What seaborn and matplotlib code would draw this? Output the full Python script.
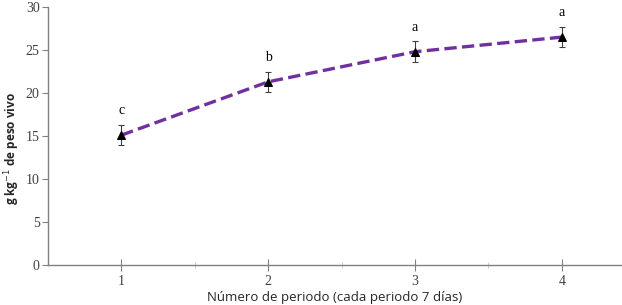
import numpy as np
import pandas as pd
import matplotlib
matplotlib.use("Agg")
import matplotlib.pyplot as plt
import seaborn as sns

periodos = [1, 2, 3, 4]
valores = [15.1, 21.3, 24.8, 26.5]
errores = [1.2, 1.2, 1.2, 1.2]
letras = ["c", "b", "a", "a"]


def main():
    sns.set_style("white")
    df = pd.DataFrame({"periodo": periodos, "valor": valores})

    fig = plt.figure(figsize=(6.22, 3.05), dpi=100)
    ax = fig.add_axes([0.077, 0.131, 0.923, 0.846])

    ax.errorbar(periodos, valores, yerr=errores, fmt="none", ecolor="#404040",
                elinewidth=0.8, capsize=2.5, capthick=0.8, zorder=2)
    sns.lineplot(data=df, x="periodo", y="valor", ax=ax, color="#7030A0",
                 linestyle="--", linewidth=2.4, marker="^", markersize=6,
                 markerfacecolor="black", markeredgecolor="black", zorder=3)

    for x, y, e, t in zip(periodos, valores, errores, letras):
        ax.text(x, y + e + 0.9, t, ha="center", va="bottom",
                family="Liberation Serif", fontsize=10, color="black")

    ax.set_xlim(0.5, 4.41)
    ax.set_ylim(0, 30)
    ax.set_xticks(periodos)
    ax.set_xticks([1.5, 2.5, 3.5], minor=True)
    ax.set_yticks(range(0, 31, 5))
    for lab in ax.get_xticklabels() + ax.get_yticklabels():
        lab.set_family("Liberation Serif")
        lab.set_fontsize(10)
        lab.set_color("#404040")
    ax.tick_params(axis="x", which="major", direction="inout", length=8,
                   width=0.8, color="#808080", bottom=True)
    ax.tick_params(axis="x", which="minor", direction="inout", length=4,
                   width=0.6, color="#c0c0c0", bottom=True)
    ax.tick_params(axis="y", direction="out", length=4, width=0.8,
                   color="#808080", left=True, pad=2)

    for s in ["top", "right"]:
        ax.spines[s].set_visible(False)
    for s in ["left", "bottom"]:
        ax.spines[s].set_color("#808080")
        ax.spines[s].set_linewidth(1.0)

    ax.set_xlabel("Número de periodo (cada periodo 7 días)", family="Open Sans",
                  fontsize=9.5, labelpad=2)
    ax.set_ylabel("g kg$^{-1}$ de peso vivo", family="Open Sans",
                  fontsize=8.5, fontweight="bold")
    ax.yaxis.set_label_coords(-0.045, 0.45)

    fig.savefig("out.png", dpi=100)
    plt.close(fig)


if __name__ == "__main__":
    main()
